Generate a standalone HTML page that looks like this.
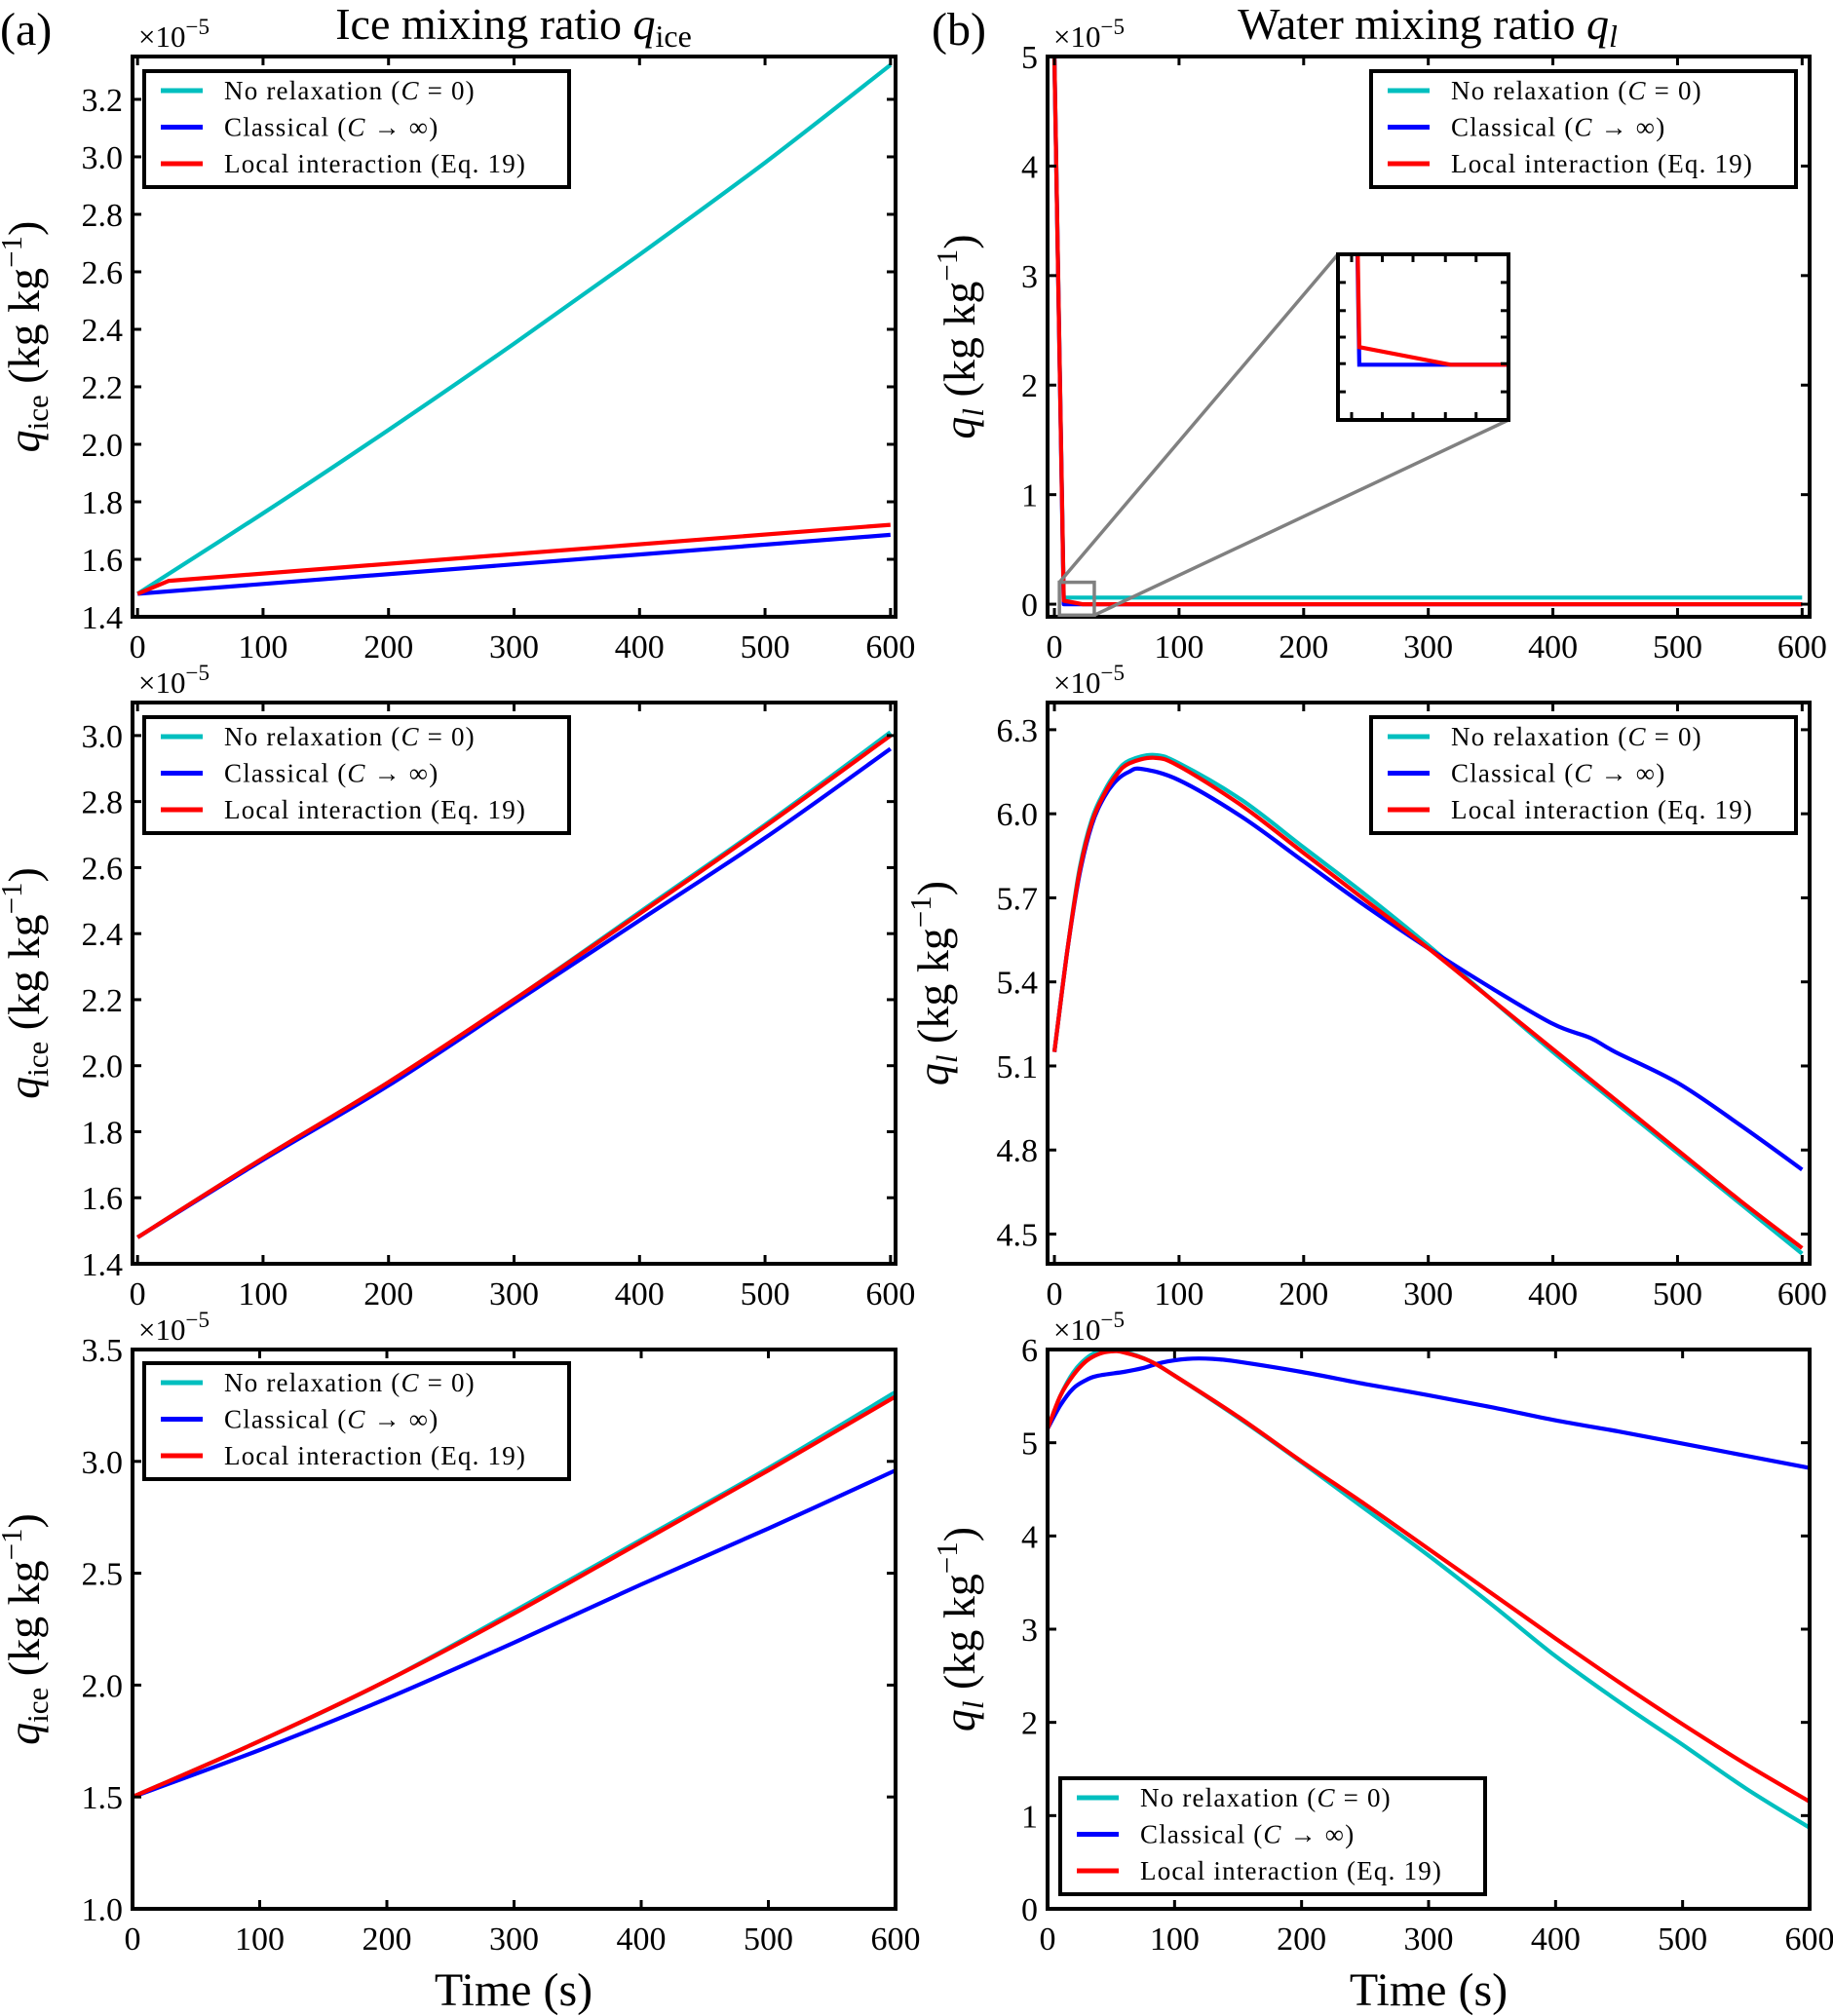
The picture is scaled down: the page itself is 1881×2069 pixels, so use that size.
<!DOCTYPE html>
<html><head><meta charset="utf-8">
<style>
html,body{margin:0;padding:0;background:#fff;}
svg{display:block;font-family:"Liberation Serif",serif;}
</style></head>
<body>
<svg id="fig" width="1881" height="2069" viewBox="0 0 1881 2069" xmlns="http://www.w3.org/2000/svg">
<text x="0" y="46" font-size="48">(a)</text>
<text x="527" y="40" font-size="46" text-anchor="middle">Ice mixing ratio <tspan font-style="italic">q</tspan><tspan font-size="32" dy="8">ice</tspan></text>
<text x="956" y="46" font-size="48">(b)</text>
<text x="1465" y="40" font-size="46" text-anchor="middle">Water mixing ratio <tspan font-style="italic">q</tspan><tspan font-size="32" dy="8" font-style="italic">l</tspan></text>
<text x="527" y="2058" font-size="48" text-anchor="middle">Time (s)</text>
<text x="1466" y="2058" font-size="48" text-anchor="middle">Time (s)</text>
</svg>
<script>
// ---- data (values ×1e-5) ----
const a1_t_cyan=[0,100,200,300,400,500,600];
const a1_cyan=[1.48,1.76,2.05,2.35,2.66,2.98,3.32];
const a1_t_blue=[0,600];
const a1_blue=[1.48,1.685];
const a1_t_red=[0,25,600];
const a1_red=[1.48,1.525,1.72];

const b1_t_cyan=[0,7.5,600];
const b1_cyan=[5.0,0.06,0.06];
const b1_t_blue=[0,7.5,600];
const b1_blue=[5.0,0.0,0.0];
const b1_t_red=[0,7.5,22.5,600];
const b1_red=[5.0,0.032,0.0,0.0];

const a2_t=[0,100,200,300,400,500,600];
const a2_cyan=[1.48,1.72,1.95,2.2,2.465,2.73,3.01];
const a2_blue=[1.48,1.715,1.94,2.19,2.44,2.69,2.96];
const a2_red=[1.48,1.72,1.95,2.2,2.46,2.725,3.0];

const b2_t_cyan=[0,10,20,30,40,50,60,80,100,150,200,250,300,350,400,450,500,550,600];
const b2_cyan=[5.15,5.5,5.8,5.98,6.08,6.15,6.19,6.21,6.18,6.05,5.88,5.71,5.53,5.34,5.15,4.97,4.79,4.61,4.43];
const b2_t_red=[0,10,20,30,40,50,60,80,100,150,200,250,300,350,400,450,500,550,600];
const b2_red=[5.15,5.5,5.79,5.97,6.07,6.14,6.18,6.2,6.17,6.03,5.86,5.69,5.52,5.34,5.16,4.98,4.8,4.62,4.45];
const b2_t_blue=[0,10,20,30,40,50,60,70,100,150,200,250,300,350,400,430,450,500,550,600];
const b2_blue=[5.15,5.5,5.78,5.96,6.06,6.12,6.15,6.16,6.12,5.99,5.83,5.67,5.52,5.38,5.25,5.2,5.15,5.04,4.89,4.73];

const a3_t=[0,100,200,300,400,500,600];
const a3_cyan=[1.5,1.75,2.02,2.33,2.65,2.97,3.31];
const a3_blue=[1.5,1.71,1.94,2.19,2.45,2.7,2.96];
const a3_red=[1.5,1.75,2.02,2.32,2.64,2.96,3.29];

const b3_t_cyan=[0,10,20,30,40,50,60,80,100,150,200,250,300,350,400,450,500,550,600];
const b3_cyan=[5.15,5.5,5.75,5.9,5.98,6.0,5.98,5.88,5.72,5.27,4.79,4.29,3.79,3.26,2.71,2.22,1.76,1.29,0.87];
const b3_t_red=[0,10,20,30,40,50,60,80,100,150,200,250,300,350,400,450,500,550,600];
const b3_red=[5.15,5.5,5.72,5.87,5.95,5.98,5.97,5.88,5.72,5.28,4.8,4.34,3.86,3.38,2.9,2.43,1.98,1.55,1.15];
const b3_t_blue=[0,10,20,30,40,60,75,90,110,130,150,200,250,300,350,400,450,500,550,600];
const b3_blue=[5.15,5.4,5.58,5.67,5.72,5.76,5.8,5.86,5.9,5.9,5.87,5.76,5.63,5.51,5.38,5.24,5.12,4.99,4.86,4.73];

const xTicks=[0,100,200,300,400,500,600];
const yTicksA1=["1.4","1.6","1.8","2.0","2.2","2.4","2.6","2.8","3.0","3.2"];
const yTicksB1=["0","1","2","3","4","5"];
const yTicksA2=["1.4","1.6","1.8","2.0","2.2","2.4","2.6","2.8","3.0"];
const yTicksB2=["4.5","4.8","5.1","5.4","5.7","6.0","6.3"];
const yTicksA3=["1.0","1.5","2.0","2.5","3.0","3.5"];
const yTicksB3=["0","1","2","3","4","5","6"];
const legendLabels=["No relaxation","Classical","Local interaction"];

const NS="http://www.w3.org/2000/svg";
const svg=document.getElementById('fig');
const COL={cyan:"#00bfbf",blue:"#0000ff",red:"#ff0000"};
function el(tag,attrs,parent){const e=document.createElementNS(NS,tag);for(const k in attrs)e.setAttribute(k,attrs[k]);(parent||svg).appendChild(e);return e;}
function scale(d0,d1,p0,p1){return v=>p0+(v-d0)/(d1-d0)*(p1-p0);}
function pathD(pts,smooth){
  if(!smooth||pts.length<3) return pts.map((p,i)=>(i?'L':'M')+p[0].toFixed(1)+','+p[1].toFixed(1)).join('');
  let d='M'+pts[0][0].toFixed(1)+','+pts[0][1].toFixed(1);
  for(let i=0;i<pts.length-1;i++){
    const p0=pts[i-1]||pts[i],p1=pts[i],p2=pts[i+1],p3=pts[i+2]||p2;
    const c1=[p1[0]+(p2[0]-p0[0])/6,p1[1]+(p2[1]-p0[1])/6];
    const c2=[p2[0]-(p3[0]-p1[0])/6,p2[1]-(p3[1]-p1[1])/6];
    d+='C'+c1[0].toFixed(1)+','+c1[1].toFixed(1)+' '+c2[0].toFixed(1)+','+c2[1].toFixed(1)+' '+p2[0].toFixed(1)+','+p2[1].toFixed(1);
  }
  return d;
}

function panel(id,L,R,T,B,xr,yr,yTicks,series,yl,ylX,legend,smooth){
  const g=el('g',{});
  
  
  const X=scale(xr[0],xr[1],L,R), Y=scale(yr[0],yr[1],B,T);
  const cid='clip-'+id;
  const cp=el('clipPath',{id:cid},g);el('rect',{x:L,y:T,width:R-L,height:B-T},cp);
  const lg=el('g',{'clip-path':'url(#'+cid+')'},g);
  series.forEach(s=>{
    const pts=s.t.map((t,i)=>[X(t),Y(s.v[i])]);
    const sm=(s.smooth!==undefined)?s.smooth:smooth;
    const p=el('path',{d:pathD(pts,sm),fill:'none',stroke:COL[s.c],'stroke-width':4.2,'stroke-linejoin':'round'},lg);
    
    
  });
  xTicks.forEach(t=>{
    const x=X(t);
    el('line',{x1:x,x2:x,y1:B,y2:B-9,stroke:'#000','stroke-width':3},g);
    el('line',{x1:x,x2:x,y1:T,y2:T+9,stroke:'#000','stroke-width':3},g);
    const tx=el('text',{x:x,y:B+42,'font-size':34,'text-anchor':'middle'},g);
    tx.textContent=t;
    
    
  });
  yTicks.forEach(s=>{
    const y=Y(parseFloat(s));
    el('line',{x1:L,x2:L+9,y1:y,y2:y,stroke:'#000','stroke-width':3},g);
    el('line',{x1:R,x2:R-9,y1:y,y2:y,stroke:'#000','stroke-width':3},g);
    const tx=el('text',{x:L-10,y:y+12,'font-size':34,'text-anchor':'end'},g);
    tx.textContent=s;
    
    
  });
  const fr=el('rect',{x:L,y:T,width:R-L,height:B-T,fill:'none',stroke:'#000','stroke-width':4},g);
  
  
  const off=el('text',{x:L+6,y:T-10,'font-size':31},g);
  off.innerHTML='×10<tspan dy="-13" font-size="23">−5</tspan>';
  
  
  const yt=el('text',{transform:'translate('+ylX+','+((T+B)/2)+') rotate(-90)','font-size':46,'text-anchor':'middle'},g);
  yt.innerHTML='<tspan font-style="italic">q</tspan><tspan font-size="31" dy="9"'+(yl==='l'?' font-style="italic"':'')+'>'+(yl==='l'?'l':'ice')+'</tspan><tspan dy="-9">  (kg kg</tspan><tspan font-size="31" dy="-18">−1</tspan><tspan dy="18">)</tspan>';
  
  
  const [lx,ly]=legend;
  const lgd=el('g',{},g);
  
  
  el('rect',{x:lx,y:ly,width:436,height:119,fill:'#fff',stroke:'#000','stroke-width':4},lgd);
  const suffix=['(<tspan font-style="italic">C</tspan> = 0)','(<tspan font-style="italic">C</tspan> → ∞)','(Eq.  19)'];
  ['cyan','blue','red'].forEach((c,i)=>{
    const yy=ly+20+i*37.5;
    el('line',{x1:lx+17,x2:lx+60,y1:yy,y2:yy,stroke:COL[c],'stroke-width':5},lgd);
    const t=el('text',{x:lx+82,y:yy+9,'font-size':27,'letter-spacing':'1.2'},lgd);
    t.innerHTML=legendLabels[i]+' '+suffix[i];
    
    
  });
  return {X,Y,g};
}

const cA=[136,919], cB=[1075,1857];
const r1=[58,633], r2=[721,1297], r3=[1385,1959];

panel('panel-a1',cA[0],cA[1],r1[0],r1[1],[-4,604],[1.4,3.349],yTicksA1,
 [{t:a1_t_cyan,v:a1_cyan,c:'cyan',smooth:true},{t:a1_t_blue,v:a1_blue,c:'blue'},{t:a1_t_red,v:a1_red,c:'red'}],'ice',40,[148,73],false);
const pb1=panel('panel-b1',cB[0],cB[1],r1[0],r1[1],[-5.5,606],[-0.115,5.0],yTicksB1,
 [{t:b1_t_cyan,v:b1_cyan,c:'cyan'},{t:b1_t_blue,v:b1_blue,c:'blue'},{t:b1_t_red,v:b1_red,c:'red'}],'l',1000,[1407,73],false);
panel('panel-a2',cA[0],cA[1],r2[0],r2[1],[-4,604],[1.4,3.10],yTicksA2,
 [{t:a2_t,v:a2_cyan,c:'cyan'},{t:a2_t,v:a2_blue,c:'blue'},{t:a2_t,v:a2_red,c:'red'}],'ice',40,[148,736],true);
panel('panel-b2',cB[0],cB[1],r2[0],r2[1],[-5.5,606],[4.394,6.397],yTicksB2,
 [{t:b2_t_cyan,v:b2_cyan,c:'cyan'},{t:b2_t_blue,v:b2_blue,c:'blue'},{t:b2_t_red,v:b2_red,c:'red'}],'l',973,[1407,736],true);
panel('panel-a3',cA[0],cA[1],r3[0],r3[1],[0,600],[1.0,3.5],yTicksA3,
 [{t:a3_t,v:a3_cyan,c:'cyan'},{t:a3_t,v:a3_blue,c:'blue'},{t:a3_t,v:a3_red,c:'red'}],'ice',40,[148,1399],true);
panel('panel-b3',cB[0],cB[1],r3[0],r3[1],[0,600],[0,6],yTicksB3,
 [{t:b3_t_cyan,v:b3_cyan,c:'cyan'},{t:b3_t_blue,v:b3_blue,c:'blue'},{t:b3_t_red,v:b3_red,c:'red'}],'l',1000,[1088,1825],true);

// inset for panel b1
const insXr=[4,32], insYr=[-0.1,0.2];
const IL=1373,IR=1548,IT=261,IB=431;
const rx0=pb1.X(insXr[0]),rx1=pb1.X(insXr[1]),ry0=pb1.Y(insYr[1]),ry1=pb1.Y(insYr[0]);
const ig=el('g',{});


el('line',{x1:rx0,y1:ry0,x2:IL,y2:IT,stroke:'#808080','stroke-width':3.5},ig);
el('line',{x1:rx1,y1:ry1,x2:IR,y2:IB,stroke:'#808080','stroke-width':3.5},ig);
const zr=el('rect',{x:rx0,y:ry0,width:rx1-rx0,height:ry1-ry0,fill:'none',stroke:'#808080','stroke-width':3.5},ig);


el('rect',{x:IL,y:IT,width:IR-IL,height:IB-IT,fill:'#fff'},ig);
const IX=scale(insXr[0],insXr[1],IL,IR), IY=scale(insYr[0],insYr[1],IB,IT);
const icp=el('clipPath',{id:'clip-inset'},ig);el('rect',{x:IL,y:IT,width:IR-IL,height:IB-IT},icp);
const ilg=el('g',{'clip-path':'url(#clip-inset)'},ig);
[[b1_t_blue,b1_blue,'blue'],[b1_t_red,b1_red,'red']].forEach(([ts,vs,c])=>{
  const d=ts.map((t,i)=>(i?'L':'M')+IX(t).toFixed(1)+','+IY(vs[i]).toFixed(1)).join('');
  const p=el('path',{d:d,fill:'none',stroke:COL[c],'stroke-width':4.2},ilg);
  
  
});
[0.08,0.26,0.44,0.63,0.81].forEach(f=>{const x=IL+f*(IR-IL);
  el('line',{x1:x,x2:x,y1:IT,y2:IT+8,stroke:'#000','stroke-width':3},ig);
  el('line',{x1:x,x2:x,y1:IB,y2:IB-8,stroke:'#000','stroke-width':3},ig);});
[0.17,0.34,0.5,0.66,0.83].forEach(f=>{const y=IT+f*(IB-IT);
  el('line',{x1:IL,x2:IL+8,y1:y,y2:y,stroke:'#000','stroke-width':3},ig);
  el('line',{x1:IR,x2:IR-8,y1:y,y2:y,stroke:'#000','stroke-width':3},ig);});
el('rect',{x:IL,y:IT,width:IR-IL,height:IB-IT,fill:'none',stroke:'#000','stroke-width':4},ig);
</script>
</body></html>
